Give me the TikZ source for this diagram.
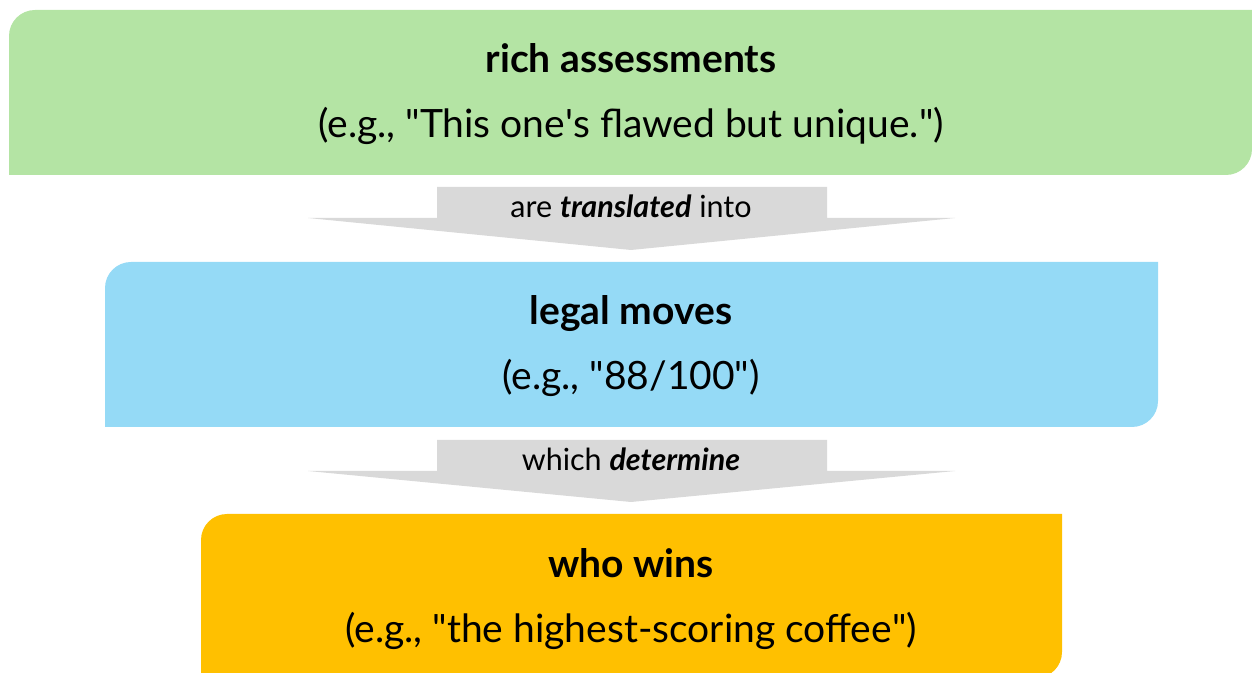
\documentclass[tikz,border=0pt]{standalone}
\usepackage{fontspec}
\setmainfont{Lato}
\newcommand{\dq}{\textquotedbl}
\newcommand{\sq}{\textquotesingle}
\begin{document}
\begin{tikzpicture}[x=1pt,y=1pt,
  title/.style={anchor=base,inner sep=0pt,font=\fontsize{39}{46}\selectfont\bfseries},
  example/.style={anchor=base,inner sep=0pt,font=\fontsize{39}{46}\selectfont},
  flowlabel/.style={anchor=base,inner sep=0pt,font=\fontsize{30.5}{36}\selectfont},
  arrowfill/.style={fill=arrowgray}]
\definecolor{boxgreen}{HTML}{B4E4A4}
\definecolor{boxblue}{HTML}{95DAF6}
\definecolor{boxgold}{HTML}{FFC000}
\definecolor{arrowgray}{HTML}{D9D9D9}
\useasboundingbox (0,0) rectangle (1252,672);

% top box: rounded top-left and bottom-right corners
\fill[boxgreen] (9,497) -- (9,636) arc[start angle=180,end angle=90,radius=26]
  -- (1252,662) -- (1252,523) arc[start angle=0,end angle=-90,radius=26] -- cycle;
% middle box
\fill[boxblue] (105,245) -- (105,384) arc[start angle=180,end angle=90,radius=26]
  -- (1158,410) -- (1158,271) arc[start angle=0,end angle=-90,radius=26] -- cycle;
% bottom box
\fill[boxgold] (201,-6) -- (201,132) arc[start angle=180,end angle=90,radius=26]
  -- (1062,158) -- (1062,20) arc[start angle=0,end angle=-90,radius=26] -- cycle;

% block arrows between the boxes
\fill[arrowfill] (437,485) -- (827,485) -- (827,454) -- (955,454) -- (631,422)
  -- (308,454) -- (437,454) -- cycle;
\fill[arrowfill] (437,232) -- (827,232) -- (827,201) -- (955,201) -- (631,170)
  -- (308,201) -- (437,201) -- cycle;

% texts
\node[title] (t1) at (631,599) {rich assessments};
\node[example] (e1) at (631,534) {(e.g., \dq This one\sq s flawed but unique.\dq)};
\node[flowlabel] (l1) at (631,454) {are \textbf{\textit{translated}} into};
\node[title] (t2) at (631,347) {legal moves};
\node[example] (e2) at (631,282) {(e.g., \dq 88/100\dq)};
\node[flowlabel] (l2) at (631,201) {which \textbf{\textit{determine}}};
\node[title] (t3) at (631,95) {who wins};
\node[example] (e3) at (631,30) {(e.g., \dq the highest-scoring coffee\dq)};
\end{tikzpicture}
\end{document}
